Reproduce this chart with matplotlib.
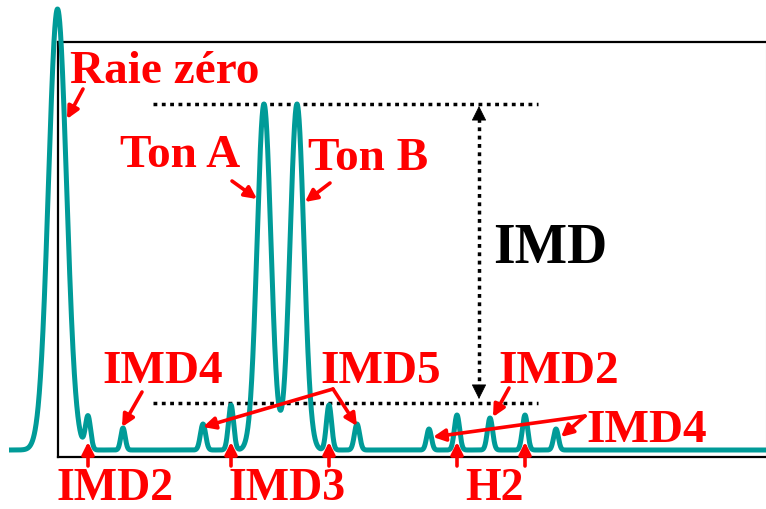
import numpy as np
import matplotlib
matplotlib.use("Agg")
import matplotlib.pyplot as plt

# ---- data (frequency offset from zero line, relative amplitude) ----
peak_names = ["Raie zéro", "IMD2", "IMD4", "IMD5", "IMD3", "Ton A", "Ton B",
              "IMD3", "IMD5", "IMD4", "H2", "IMD2", "H2", "IMD4"]
peak_freq = [0.5, 31, 66, 146, 174, 207, 240, 272, 300, 372, 400, 433, 468, 499]
peak_amp = [441, 33, 22, 26, 45, 346, 346, 45, 26, 21, 35, 32, 35, 21]
peak_width = [9.0, 2.6, 2.2, 2.6, 2.6, 6.9, 6.9, 2.6, 2.6, 2.4, 2.6, 2.6, 2.6, 2.4]
freq_range = [-48, 709]

TEAL = "#009B98"
RED = "#FF0000"
SERIF = ["Liberation Serif", "DejaVu Serif"]

fig = plt.figure(figsize=(7.66, 5.10), dpi=100)
ax = fig.add_axes([58 / 766, 52 / 510, 707.5 / 766, 415 / 510])
ax.set_xlim(1, 708.5)
ax.set_ylim(-7, 408)
ax.set_xticks([])
ax.set_yticks([])
for s in ["left", "top", "bottom"]:
    ax.spines[s].set_linewidth(1.6)
    ax.spines[s].set_color("black")
ax.spines["right"].set_linewidth(0.8)
ax.spines["right"].set_color("#c8c8c8")

f = np.linspace(freq_range[0], freq_range[1], 6000)
spec = np.zeros_like(f)
for c, a, w in zip(peak_freq, peak_amp, peak_width):
    spec += a * np.exp(-0.5 * ((f - c) / w) ** 2)
ax.plot(f, spec, color=TEAL, lw=3.6, clip_on=False, zorder=5,
        solid_joinstyle="round", solid_capstyle="butt")

# ---- IMD measurement markers ----
tone_level = peak_amp[5]
imd_level = peak_amp[4] + 2
dot = (0, (1.1, 1.3))
ax.plot([96, 481], [tone_level, tone_level], color="black", lw=2.5,
        linestyle=dot, clip_on=False, zorder=4)
ax.plot([96, 481], [imd_level, imd_level], color="black", lw=2.5,
        linestyle=dot, clip_on=False, zorder=4)
vx = 422
ax.plot([vx, vx], [imd_level + 14, tone_level - 14], color="black", lw=2.5,
        linestyle=dot, clip_on=False, zorder=4)
head = dict(arrowstyle="-|>", color="black", lw=0.5, mutation_scale=24,
            shrinkA=0, shrinkB=0)
ax.annotate("", xy=(vx, tone_level - 2), xytext=(vx, tone_level - 16),
            arrowprops=head, annotation_clip=False)
ax.annotate("", xy=(vx, imd_level + 4), xytext=(vx, imd_level + 18),
            arrowprops=head, annotation_clip=False)
ax.text(436, 188, "IMD", color="black", fontsize=40, fontweight="bold",
        family=SERIF, ha="left", va="baseline")

# ---- red labels ----
def label(x, y, s, size=34):
    ax.text(x, y, s, color=RED, fontsize=size, fontweight="bold", family=SERIF,
            ha="left", va="baseline", zorder=6, clip_on=False)

label(13, 368, "Raie zéro")
label(63, 284, "Ton A")
label(251, 281, "Ton B")
label(45, 68, "IMD4")
label(263, 68, "IMD5")
label(441, 68, "IMD2")
label(529, 9, "IMD4")
label(-1, -49, "IMD2", 33)
label(171, -49, "IMD3", 33)
label(408, -49, "H2", 33)

arr = dict(arrowstyle="-|>", color=RED, lw=2.6, mutation_scale=18,
           shrinkA=0, shrinkB=0)

def arrow(tail, tip):
    ax.annotate("", xy=tip, xytext=tail, arrowprops=arr,
                annotation_clip=False, zorder=6)

arrow((26, 361), (10, 331))          # Raie zero
arrow((175, 269), (200, 251))        # Ton A
arrow((273, 267), (248, 248))        # Ton B
arrow((85, 58), (65, 23))            # IMD4 left
arrow((276, 61), (146, 23))          # IMD5 left
arrow((276, 61), (300, 24))          # IMD5 right
arrow((452, 62), (436, 33))          # IMD2 right
arrow((528, 34), (376, 13))          # IMD4 right a
arrow((528, 34), (504, 13))          # IMD4 right b
for i in [1, 4, 7, 10, 12]:           # upward arrows below the axis
    arrow((peak_freq[i], -16), (peak_freq[i], 8))

fig.savefig("out.png", dpi=100)
